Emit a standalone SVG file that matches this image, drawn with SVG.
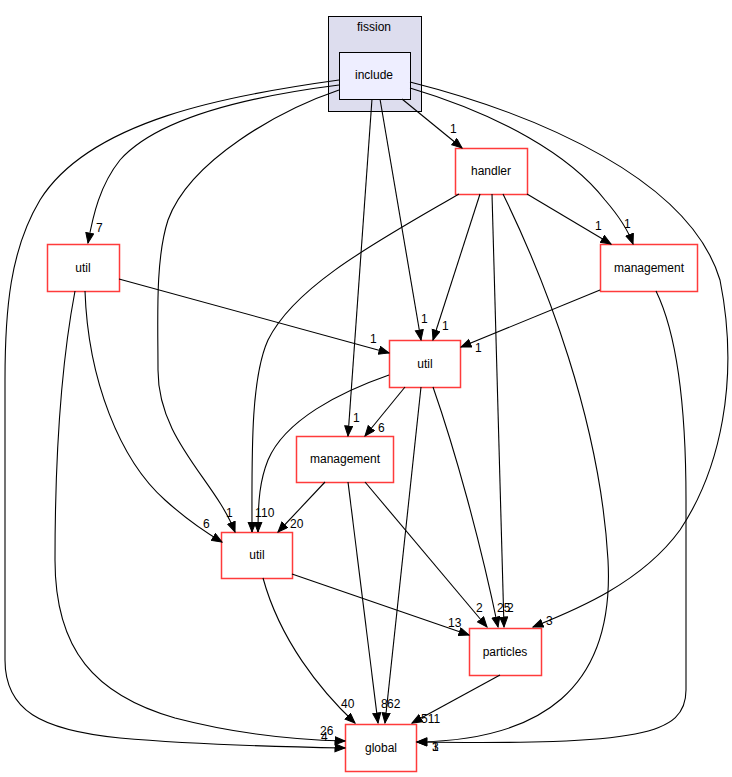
<svg xmlns="http://www.w3.org/2000/svg" width="732" height="777" viewBox="0 0 732 777">
<style>
.node rect{fill:#ffffff;stroke:#ff3b3b;stroke-width:1.5}
text{font-family:"Liberation Sans",Arial,sans-serif;font-size:12px;fill:#000}
.nt{text-anchor:middle}
.edges path{fill:none;stroke:#000;stroke-width:1.1;marker-end:url(#arr)}
.lbl text{font-size:12px}
</style>
<defs>
<marker id="arr" markerUnits="userSpaceOnUse" markerWidth="12" markerHeight="10" refX="10.5" refY="4.5" orient="auto">
<path d="M0.5,0.5 L10.5,4.5 L0.5,8.5 z" fill="#000" stroke="#000" stroke-width="1"/>
</marker>
</defs>
<rect width="732" height="777" fill="#ffffff"/>
<g id="cluster_fission">
<rect x="328.5" y="16.5" width="93" height="95" fill="#ddddee" stroke="#000"/>
<text class="nt" x="374" y="31">fission</text>
</g>
<g id="include" class="node">
<rect x="339.5" y="52.5" width="71" height="47" style="fill:#eeeeff;stroke:#000;stroke-width:1"/>
<text class="nt" x="374" y="79">include</text>
</g>
<g id="handler" class="node">
<rect x="455.5" y="148.5" width="72" height="46"/>
<text class="nt" x="491" y="175">handler</text>
</g>
<g id="util_left" class="node">
<rect x="47.5" y="244.5" width="72" height="47"/>
<text class="nt" x="83" y="272">util</text>
</g>
<g id="management_right" class="node">
<rect x="600.5" y="244.5" width="97" height="47"/>
<text class="nt" x="649" y="272">management</text>
</g>
<g id="util_center" class="node">
<rect x="389.5" y="340.5" width="71" height="47"/>
<text class="nt" x="425" y="368">util</text>
</g>
<g id="management_center" class="node">
<rect x="296.5" y="436.5" width="97" height="46"/>
<text class="nt" x="345" y="463">management</text>
</g>
<g id="util_bottom" class="node">
<rect x="221.5" y="532.5" width="71" height="46"/>
<text class="nt" x="257" y="559">util</text>
</g>
<g id="particles" class="node">
<rect x="469.5" y="628.5" width="72" height="47"/>
<text class="nt" x="505" y="656">particles</text>
</g>
<g id="global" class="node">
<rect x="345.5" y="724.5" width="71" height="47"/>
<text class="nt" x="381" y="752">global</text>
</g>
<g id="connectors" class="edges">
<path d="M339,80 C230,95 90,120 40,200 C10,250 5,310 5,380 L5,660 C5,710 40,730 120,738 C200,745 290,747 345,748"/>
<path d="M339,85 C260,95 160,115 120,160 C100,185 93,215 88,243"/>
<path d="M339,90 C280,110 190,160 168,220 C155,260 158,320 158,370 C158,440 215,480 235,532"/>
<path d="M372,99 L348,436"/>
<path d="M380,99 L421,340"/>
<path d="M402,99 L462,148"/>
<path d="M410,88 C500,115 570,155 605,200 C618,215 628,230 633,244"/>
<path d="M410,82 C540,115 690,180 720,280 C740,380 720,470 680,530 C640,585 570,612 533,627"/>
<path d="M459,194 C380,240 295,285 268,340 C250,380 252,460 252,532"/>
<path d="M480,194 L433,340"/>
<path d="M527,194 L611,244"/>
<path d="M492,194 C495,350 500,500 504,627"/>
<path d="M503,194 C545,280 600,420 608,560 C615,690 540,740 417,742"/>
<path d="M600,290 L461,347"/>
<path d="M656,291 C680,340 686,420 686,500 L686,690 C686,735 640,745 417,742"/>
<path d="M119,279 L389,353"/>
<path d="M85,291 C88,380 120,460 165,500 C185,518 205,532 222,542"/>
<path d="M75,291 C60,370 55,460 55,560 C55,650 95,695 175,718 C240,735 300,740 345,741"/>
<path d="M405,387 L365,436"/>
<path d="M389,375 C340,392 285,420 268,460 C260,480 258,500 258,532"/>
<path d="M433,387 C455,450 480,540 498,627"/>
<path d="M421,387 L385,723"/>
<path d="M325,482 L278,532"/>
<path d="M365,482 L487,627"/>
<path d="M348,482 L378,723"/>
<path d="M292,574 L469,635"/>
<path d="M263,578 C280,640 320,690 355,723"/>
<path d="M500,675 L412,723"/>
</g>
<g id="labels" class="lbl">
<text x="96" y="232">7</text>
<text x="226" y="517">1</text>
<text x="255" y="517">1</text>
<text x="261" y="517">10</text>
<text x="203" y="528">6</text>
<text x="290" y="528">20</text>
<text x="370" y="343">1</text>
<text x="421" y="323">1</text>
<text x="442" y="330">1</text>
<text x="475" y="352">1</text>
<text x="353" y="422">1</text>
<text x="378" y="432">6</text>
<text x="595" y="230">1</text>
<text x="624" y="228">1</text>
<text x="450" y="133">1</text>
<text x="476" y="612">2</text>
<text x="497" y="612">25</text>
<text x="507" y="612">2</text>
<text x="448" y="627">13</text>
<text x="546" y="625">3</text>
<text x="341" y="708">40</text>
<text x="381" y="708">8</text>
<text x="387" y="708">62</text>
<text x="421" y="723">511</text>
<text x="320" y="735">26</text>
<text x="321" y="741">4</text>
<text x="432" y="751">3</text>
<text x="432" y="751">1</text>
</g>
</svg>
